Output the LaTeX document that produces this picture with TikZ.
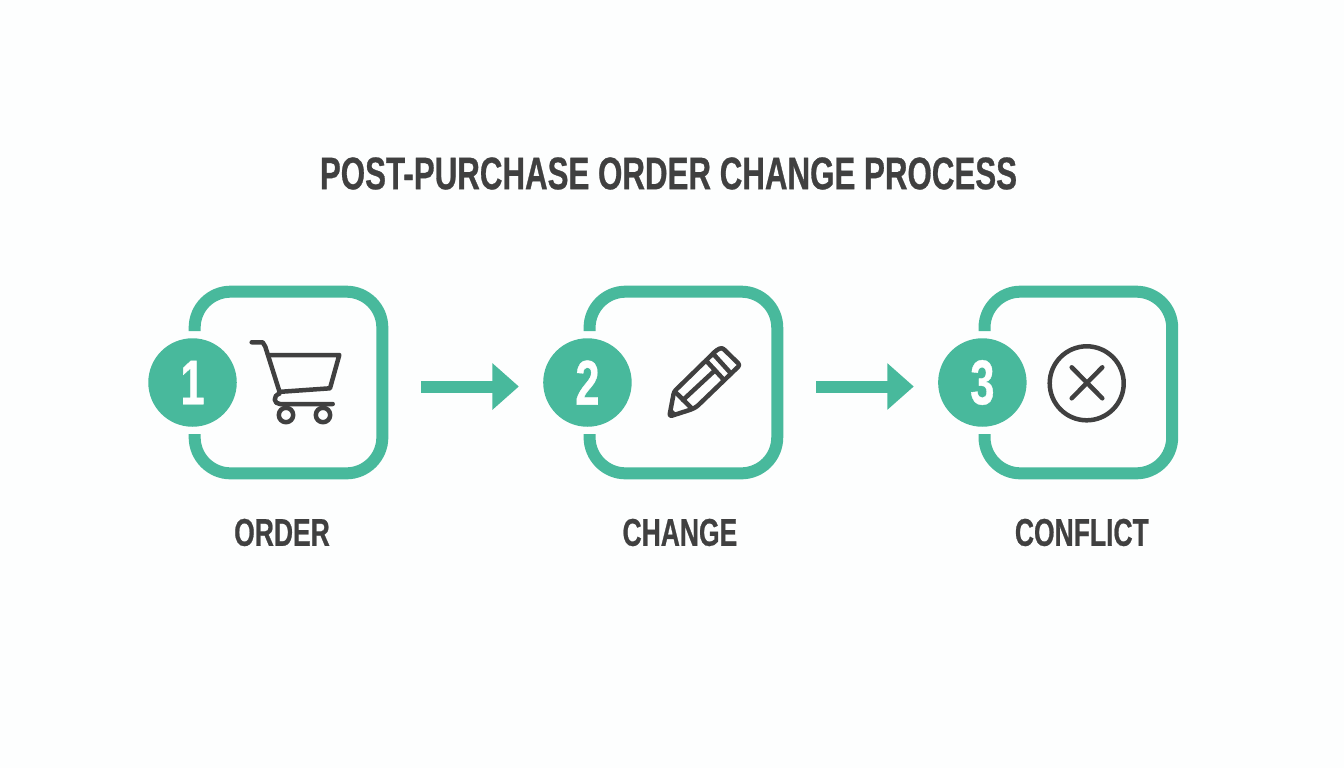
\documentclass[tikz,border=0pt]{standalone}
\usepackage{fontspec}
\usepackage{tikz}
\usetikzlibrary{
  positioning, calc, arrows.meta
}
\setmainfont{Liberation Sans}[BoldFeatures={FakeStretch=0.685,FakeBold=0.6}]
\definecolor{tealmain}{HTML}{48B99C}
\definecolor{inkgrey}{HTML}{404040}
\definecolor{pagewhite}{HTML}{FDFEFE}

\tikzset{
  boxbase/.style={minimum width=3.74cm,minimum height=3.62cm,inner sep=0pt},
  boxline/.style={draw=tealmain,line width=0.24cm,rounded corners=0.72cm,line cap=butt},
  badge/.style={circle,fill=tealmain,text=white,minimum size=1.77cm,inner sep=0pt,
    font=\fontsize{36}{36}\selectfont\bfseries},
  steplabel/.style={text=inkgrey,font=\fontsize{22}{22}\selectfont\bfseries},
  flowarrow/.style={draw=tealmain,line width=0.24cm,-{Triangle[length=0.53cm,width=0.9cm]}},
  icon/.style={draw=inkgrey,line width=0.09cm,line cap=round,line join=round}
}

\begin{document}
\begin{tikzpicture}[x=0.02cm,y=-0.02cm,node distance=7.9cm,on grid]
      \useasboundingbox[fill=pagewhite] (0,0) rectangle (1344,768);
      \node[text=inkgrey,font=\fontsize{26}{26}\selectfont\bfseries] (title) at (668.5,173.5) {POST-PURCHASE ORDER CHANGE PROCESS};

      \node[boxbase] (box1) at (288.5,382.5) {};
      \node[boxbase] (box2) [right=of box1] {};
      \node[boxbase] (box3) [right=of box2] {};

      % frames stop short of the badge
      \foreach \n in {1,2,3}
        \draw[boxline] ($(box\n.west)+(0,-51.5)$) -- (box\n.north west) -- (box\n.north east)
          -- (box\n.south east) -- (box\n.south west) -- ($(box\n.west)+(0,51.5)$);

      \node[badge] (badge1) [left=1.92cm of box1] {1};
      \node[badge] (badge2) [left=1.92cm of box2] {2};
      \node[badge] (badge3) [left=1.92cm of box3] {3};

      \node[steplabel] (label1) [below=3cm of box1,xshift=-0.13cm] {ORDER};
      \node[steplabel] (label2) [below=3cm of box2,xshift=-0.07cm] {CHANGE};
      \node[steplabel] (label3) [below=3cm of box3,xshift=0.07cm] {CONFLICT};

      \draw[flowarrow,shorten <=0.78cm,shorten >=0.48cm] ([yshift=-0.08cm]box1.east) -- ([yshift=-0.08cm]badge2.west);
      \draw[flowarrow,shorten <=0.78cm,shorten >=0.48cm] ([yshift=-0.08cm]box2.east) -- ([yshift=-0.08cm]badge3.west);

      % cart
      \draw[icon] (251.7,342.3) -- (262.7,342.3) -- (265.3,346.7) -- (280,393.3)
        .. controls (272,396) and (274,404) .. (280,404) -- (332.7,404);
      \draw[icon] (268.3,355) -- (339.3,355) -- (330,388.3) -- (281.7,391.7);
      \draw[icon] (286,415) circle (7.2);
      \draw[icon] (323,415) circle (7.2);

      % pencil
      \draw[icon,rounded corners=0.05cm] (669.3,416.5) -- (674,391.7) -- (716.7,350) -- (722,347.5)
        -- (740,365) -- (696.7,406.7) -- (691.7,409.3) -- cycle;
      \draw[icon] (675,391.7) -- (691.7,408.3);
      \draw[icon] (706,360.5) -- (724,380);
      \draw[icon] (713,353.6) -- (731,373.5);
      \draw[icon] (683,400) -- (715,370.3);
      \fill[inkgrey] (669,416.8) -- (671,408) -- (677.5,414.8) -- cycle;

      % cross
      \draw[icon] (1086.7,383.3) circle (37);
      \draw[icon] (1071.7,398.3) -- (1102.3,367.3);
      \draw[icon] (1071.7,367.3) -- (1102.3,398.3);
    \end{tikzpicture}
\end{document}
